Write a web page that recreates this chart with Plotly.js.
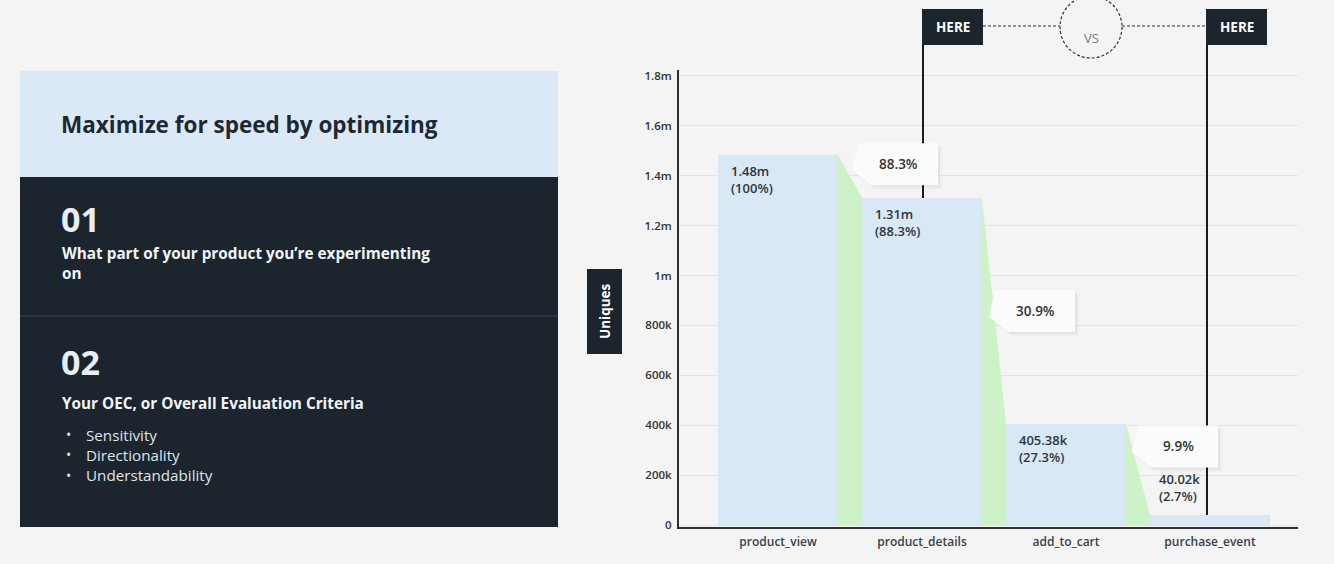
<!DOCTYPE html>
<html>
<head>
<meta charset="utf-8">
<script src="https://cdn.plot.ly/plotly-3.0.1.min.js"></script>
<style>
  html, body { margin: 0; padding: 0; background: #f4f4f4; }
  #chart { width: 1334px; height: 564px; }
</style>
</head>
<body>
<div id="chart"></div>
<script>
// ---- data ----
const categories = ['product_view', 'product_details', 'add_to_cart', 'purchase_event'];
const uniques = [1484500, 1311000, 405380, 40020];
const yTickVals = [0, 200000, 400000, 600000, 800000, 1000000, 1200000, 1400000, 1600000, 1800000];
const yTickText = ['0', '200k', '400k', '600k', '800k', '1m', '1.2m', '1.4m', '1.6m', '1.8m'];
const panelTitle = 'Maximize for speed by optimizing';
const point1Num = '01';
const point1Lines = ['What part of your product you\u2019re experimenting', 'on'];
const point2Num = '02';
const point2Text = 'Your OEC, or Overall Evaluation Criteria';
const point2Bullets = ['Sensitivity', 'Directionality', 'Understandability'];
const flagLabel = 'HERE';
const vsLabel = 'VS';
const yTitle = 'Uniques';

// ---- layout geometry (pixels) ----
const W = 1334, H = 564;
const L = 679, R = 1298, T = 70, B = 527;
const PX = x => (x - L) / (R - L);
const PY = y => (B - y) / (B - T);
const barW = 120 / 144;
const xRange = [-0.6875, 3.6111];
const yRange = [-8000, 1824000];

const FONT = 'Open Sans, Noto Sans, sans-serif';
const DARK = '#1c252e';
const BAR = '#d9e8f5';
const GREEN = '#cdf2c7';

function fmtVal(v) {
  if (v >= 1e6) return (v / 1e6).toFixed(2) + 'm';
  if (v >= 1e3) return (v / 1e3).toFixed(2) + 'k';
  return String(v);
}
function fmtPct(r) {
  const p = r * 100;
  return (Math.abs(p - 100) < 1e-9 ? '100' : p.toFixed(1)) + '%';
}

const traces = [];
// connectors (green)
for (let i = 0; i < uniques.length - 1; i++) {
  const xa = i + barW / 2, xb = i + 1 - barW / 2;
  traces.push({
    type: 'scatter', mode: 'lines', fill: 'toself',
    x: [xa, xb, xb, xa, xa], y: [uniques[i], uniques[i + 1], 0, 0, uniques[i]],
    line: { width: 0, color: GREEN }, fillcolor: GREEN, hoverinfo: 'skip', showlegend: false
  });
}
traces.push({
  type: 'bar', x: categories.map((c, i) => i), y: uniques, width: barW,
  marker: { color: BAR, line: { width: 0 } }, hoverinfo: 'skip', showlegend: false
});

const shapes = [];
const annotations = [];

// ---- left panel ----
shapes.push({ type: 'rect', xref: 'paper', yref: 'paper', x0: PX(20), x1: PX(558), y0: PY(177), y1: PY(71), fillcolor: '#dbe9f6', line: { width: 0 }, layer: 'below' });
shapes.push({ type: 'rect', xref: 'paper', yref: 'paper', x0: PX(20), x1: PX(558), y0: PY(527), y1: PY(177), fillcolor: DARK, line: { width: 0 }, layer: 'below' });
shapes.push({ type: 'line', xref: 'paper', yref: 'paper', x0: PX(20), x1: PX(558), y0: PY(316), y1: PY(316), line: { color: '#3e4953', width: 1 }, layer: 'below' });

function txt(text, x, y, size, color, weight, extra) {
  annotations.push(Object.assign({
    xref: 'paper', yref: 'paper', x: PX(x), y: PY(y), xanchor: 'left', yanchor: 'middle',
    text: text, showarrow: false, align: 'left',
    font: { family: FONT, size: size, color: color, weight: weight }
  }, extra || {}));
}
txt(panelTitle, 59, 125, 22.5, '#1d2833', 700);
txt(point1Num, 59, 219, 34, '#e8eef4', 700);
txt(point1Lines[0], 60, 253, 15.3, '#f2f5f8', 700);
txt(point1Lines[1], 60, 273, 15.3, '#f2f5f8', 700);
txt(point2Num, 59, 362, 34, '#e8eef4', 700);
txt(point2Text, 60, 403, 15.3, '#f2f5f8', 700);
point2Bullets.forEach((b, k) => {
  txt('\u2022', 64, 435 + 20 * k, 14, '#dfe4e9', 400);
  txt(b, 84, 435 + 20 * k, 15.2, '#dfe4e9', 400);
});

// ---- y title box ----
shapes.push({ type: 'rect', xref: 'paper', yref: 'paper', x0: PX(587), x1: PX(622), y0: PY(354), y1: PY(269), fillcolor: DARK, line: { width: 0 } });
annotations.push({ xref: 'paper', yref: 'paper', x: PX(604.5), y: PY(311.5), text: yTitle, textangle: -90, showarrow: false,
  xanchor: 'center', yanchor: 'middle', font: { family: FONT, size: 13.5, color: '#ffffff', weight: 700 } });

// ---- flags (HERE vs HERE) ----
const flagCats = [1, 3];
const flagShift = [1, -3];
flagCats.forEach((ci, k) => {
  const s = flagShift[k];
  shapes.push({ type: 'line', xref: 'x', yref: 'y', xsizemode: 'pixel', xanchor: ci, x0: s, x1: s, y0: uniques[ci], y1: yRange[1], line: { color: '#161b20', width: 2 } });
  shapes.push({ type: 'line', xref: 'x', yref: 'paper', xsizemode: 'pixel', xanchor: ci, x0: s, x1: s, y0: 1, y1: PY(45), line: { color: '#161b20', width: 2 } });
  shapes.push({ type: 'rect', xref: 'x', yref: 'paper', xsizemode: 'pixel', xanchor: ci, x0: s - 1, x1: s + 60, y0: PY(45), y1: PY(9), fillcolor: DARK, line: { width: 0 } });
  annotations.push({ xref: 'x', yref: 'paper', x: ci, xshift: s + 29.5, y: PY(27), text: flagLabel, showarrow: false,
    xanchor: 'center', yanchor: 'middle', font: { family: FONT, size: 13.5, color: '#ffffff', weight: 700 } });
});
shapes.push({ type: 'line', xref: 'paper', yref: 'paper', x0: PX(983), x1: PX(1060), y0: PY(26), y1: PY(26), line: { color: '#333', width: 1, dash: '3px,2px' } });
shapes.push({ type: 'line', xref: 'paper', yref: 'paper', x0: PX(1122), x1: PX(1206), y0: PY(26), y1: PY(26), line: { color: '#333', width: 1, dash: '3px,2px' } });
shapes.push({ type: 'circle', xref: 'paper', yref: 'paper', x0: PX(1060), x1: PX(1122), y0: PY(58), y1: PY(-4), line: { color: '#333', width: 1.2, dash: '3px,2px' }, fillcolor: 'rgba(0,0,0,0)' });
annotations.push({ xref: 'paper', yref: 'paper', x: PX(1091), y: PY(27), text: vsLabel, showarrow: false,
  font: { family: FONT, size: 13, color: '#7a7a7a' } });

// ---- conversion callouts ----
const calloutDx = [20, 13, 12];
const calloutDy = [12, 0, 23];
const bw = 80, bh = 42;
for (let i = 0; i < uniques.length - 1; i++) {
  const ax = i + barW / 2;
  const ay = (uniques[i] + uniques[i + 1]) / 2;
  const x0 = calloutDx[i], x1 = x0 + bw;
  const top = calloutDy[i] + bh / 2, bot = calloutDy[i] - bh / 2;
  const path = (dx, dy) => `M${x0 + dx},${top + dy} L${x1 + dx},${top + dy} L${x1 + dx},${bot + dy} L${x0 + 13 + dx},${bot + dy} L${x0 - 6 + dx},${bot + 15 + dy} L${x0 + dx},${top + dy} Z`;
  [[4, -4, 'rgba(0,0,0,0.025)'], [2, -2, 'rgba(0,0,0,0.045)']].forEach(s => {
    shapes.push({ type: 'path', xref: 'x', yref: 'y', xsizemode: 'pixel', ysizemode: 'pixel', xanchor: ax, yanchor: ay,
      path: path(s[0], s[1]), fillcolor: s[2], line: { width: 0 } });
  });
  shapes.push({ type: 'path', xref: 'x', yref: 'y', xsizemode: 'pixel', ysizemode: 'pixel', xanchor: ax, yanchor: ay,
    path: path(0, 0), fillcolor: '#fbfbfb', line: { width: 0 } });
  annotations.push({ xref: 'x', yref: 'y', x: ax, y: ay, xshift: x0 + bw / 2, yshift: calloutDy[i], text: fmtPct(uniques[i + 1] / uniques[i]),
    showarrow: false, xanchor: 'center', yanchor: 'middle', font: { family: FONT, size: 13.5, color: '#333', weight: 600 } });
}

// ---- bar labels ----
uniques.forEach((v, i) => {
  const small = v < 0.1 * uniques[0];
  annotations.push({ xref: 'x', yref: 'y', x: i - barW / 2, y: v,
    xshift: small ? 7 : 11, yshift: small ? 8 : -5, xanchor: 'left', yanchor: small ? 'bottom' : 'top', align: 'left',
    text: fmtVal(v) + '<br>(' + fmtPct(v / uniques[0]) + ')', showarrow: false,
    font: { family: FONT, size: 13, color: '#2c3640', weight: 600 } });
});

const layout = {
  width: W, height: H,
  margin: { l: L, r: W - R, t: T, b: H - B, pad: 0 },
  paper_bgcolor: '#f4f4f4', plot_bgcolor: '#f4f4f4',
  showlegend: false, hovermode: false,
  xaxis: { range: xRange, tickvals: categories.map((c, i) => i), ticktext: categories, showgrid: false, zeroline: false,
    showline: true, linecolor: '#2b2f33', linewidth: 2, ticks: '', ticklabelstandoff: 3, fixedrange: true,
    tickfont: { family: FONT, size: 12, color: '#36414c', weight: 600 } },
  yaxis: { range: yRange, tickvals: yTickVals, ticktext: yTickText, showgrid: true, gridcolor: '#e3e3e3', gridwidth: 1,
    zeroline: false, showline: true, linecolor: '#2b2f33', linewidth: 2, ticks: '', ticklabelstandoff: 3, fixedrange: true,
    tickfont: { family: FONT, size: 11.5, color: '#333', weight: 600 } },
  shapes: shapes, annotations: annotations
};

Plotly.newPlot('chart', traces, layout, { staticPlot: true, displayModeBar: false });
</script>
</body>
</html>
